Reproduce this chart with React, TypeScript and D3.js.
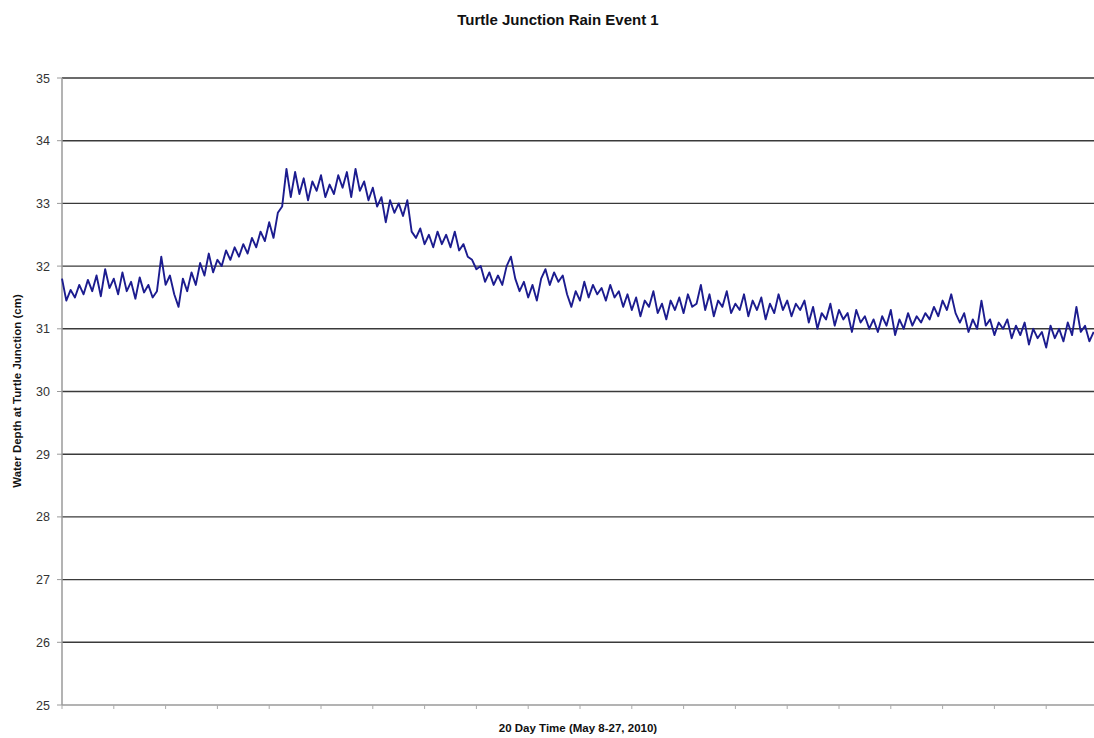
import React from "react";
import * as d3 from "d3";

const title = "Turtle Junction Rain Event 1";
const xTitle = "20 Day Time (May 8-27, 2010)";
const yTitle = "Water Depth at Turtle Junction (cm)";
const yTicks = [25, 26, 27, 28, 29, 30, 31, 32, 33, 34, 35];
const dayTicks = d3.range(0, 21);
const sampleHours = 2;
// Water depth (cm), one reading every 2 hours
const depth = [
  31.80, 31.45, 31.62, 31.50, 31.70, 31.55, 31.78, 31.60, 31.85, 31.52, 31.95, 31.65, 31.80, 31.55, 31.90, 31.60, 31.75, 31.48, 31.82, 31.58, 31.70, 31.50,
  31.60, 32.15, 31.70, 31.85, 31.55, 31.35, 31.80, 31.60, 31.90, 31.70, 32.05, 31.85, 32.20, 31.90, 32.10, 32.00, 32.25, 32.10,
  32.30, 32.15, 32.35, 32.20, 32.45, 32.30, 32.55, 32.40, 32.70, 32.45, 32.85, 32.95, 33.55, 33.10, 33.50, 33.15, 33.40, 33.05, 33.35, 33.20,
  33.45, 33.10, 33.30, 33.15, 33.45, 33.25, 33.50, 33.10, 33.55, 33.20, 33.35, 33.05, 33.25, 32.95, 33.10, 32.70, 33.05, 32.85, 33.00, 32.80,
  33.05, 32.55, 32.45, 32.60, 32.35, 32.50, 32.30, 32.55, 32.35, 32.50, 32.30, 32.55, 32.25, 32.35, 32.15, 32.10, 31.95, 32.00, 31.75, 31.90,
  31.70, 31.85, 31.70, 32.00, 32.15, 31.80, 31.60, 31.75, 31.50, 31.70, 31.45, 31.80, 31.95, 31.70, 31.90, 31.75, 31.85, 31.55, 31.35, 31.60,
  31.45, 31.75, 31.50, 31.70, 31.55, 31.65, 31.45, 31.70, 31.50, 31.60,
  31.35, 31.55, 31.30, 31.50, 31.20, 31.45, 31.35, 31.60, 31.25, 31.40, 31.15, 31.45, 31.30, 31.50, 31.25, 31.55, 31.35, 31.40,
  31.70, 31.30, 31.55, 31.20, 31.45, 31.35, 31.60, 31.25, 31.40, 31.30, 31.55, 31.20, 31.45, 31.30, 31.50, 31.15, 31.40, 31.25, 31.55, 31.30, 31.45, 31.20, 31.40, 31.30,
  31.45, 31.10, 31.35, 31.00, 31.25, 31.15, 31.40, 31.05, 31.30, 31.15, 31.25, 30.95, 31.30, 31.10, 31.20, 31.00,
  31.15, 30.95, 31.20, 31.05, 31.30, 30.90, 31.15, 31.00, 31.25, 31.05, 31.20, 31.10,
  31.25, 31.15, 31.35, 31.20, 31.45, 31.30, 31.55, 31.25,
  31.10, 31.25, 30.95, 31.15, 31.00, 31.45, 31.05, 31.15, 30.90, 31.10,
  31.00, 31.15, 30.85, 31.05, 30.90, 31.10, 30.75, 31.00, 30.85, 30.95, 30.70, 31.05,
  30.85, 31.00, 30.80, 31.10, 30.90, 31.35, 30.95, 31.05, 30.80, 30.95,
];

const W = 1094;
const H = 738;
const left = 62;
const right = 1098;
const top = 78;
const bottom = 705;

export default function App() {
  const x = d3.scaleLinear().domain([0, 20]).range([left, right]);
  const y = d3.scaleLinear().domain([25, 35]).range([bottom, top]);
  const line = d3
    .line<number>()
    .x((_, i) => x((i * sampleHours) / 24))
    .y((d) => y(d));

  return (
    <svg
      width={W}
      height={H}
      style={{ position: "absolute", left: 0, top: 0, background: "#fff" }}
      fontFamily="Arial, 'Liberation Sans', sans-serif"
    >
      <text x={558} y={25} textAnchor="middle" fontSize={15} fontWeight="bold" fill="#111">
        {title}
      </text>
      {yTicks.map((t) => (
        <g key={t}>
          <line
            x1={left}
            x2={right}
            y1={y(t)}
            y2={y(t)}
            stroke={t === 25 ? "#9a9a9a" : "#3a3a3a"}
            strokeWidth={t === 25 ? 1.5 : 1.4}
          />
          <line x1={left - 5} x2={left} y1={y(t)} y2={y(t)} stroke="#9a9a9a" strokeWidth={1} />
          <text x={50} y={y(t) + 4.5} textAnchor="end" fontSize={12.5} fill="#333">
            {t}
          </text>
        </g>
      ))}
      <line x1={left} x2={left} y1={top} y2={bottom} stroke="#9a9a9a" strokeWidth={1.5} />
      {dayTicks.map((d) => (
        <line key={d} x1={x(d)} x2={x(d)} y1={bottom} y2={bottom + 4} stroke="#aaa" strokeWidth={1} />
      ))}
      <path d={line(depth) || ""} fill="none" stroke="#1c1c8f" strokeWidth={1.9} strokeLinejoin="round" />
      <text x={578} y={732} textAnchor="middle" fontSize={11.5} fontWeight="bold" fill="#111">
        {xTitle}
      </text>
      <text
        transform={`translate(21, 391) rotate(-90)`}
        textAnchor="middle"
        fontSize={11.5}
        fontWeight="bold"
        fill="#111"
      >
        {yTitle}
      </text>
    </svg>
  );
}
